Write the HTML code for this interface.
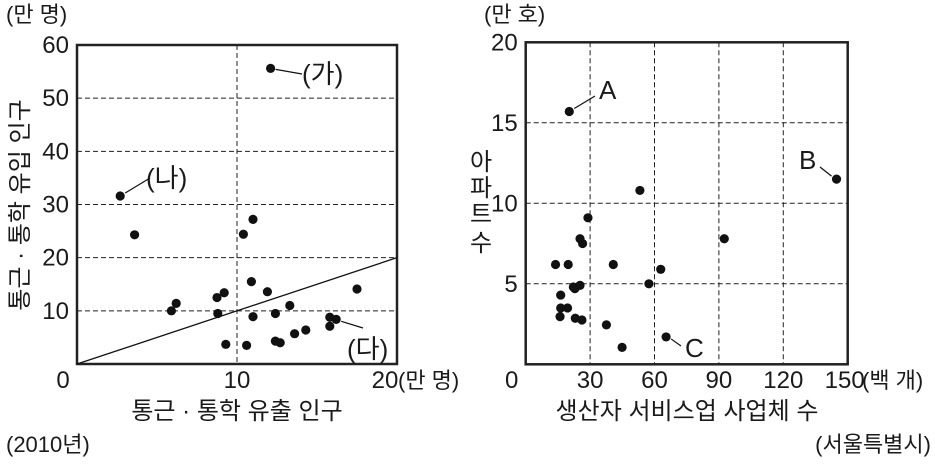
<!DOCTYPE html>
<html><head><meta charset="utf-8"><style>
html,body{margin:0;padding:0;background:#fff}
svg text{font-family:"Liberation Sans","Noto Sans CJK KR",sans-serif;fill:#1a1a1a}
</style></head><body>
<svg id="c" width="935" height="464" viewBox="0 0 935 464" xmlns="http://www.w3.org/2000/svg">
<g id="L"></g>
<g id="R"></g>
<text x="6" y="22" font-size="22">(만 명)</text>
<text x="484" y="22" font-size="22">(만 호)</text>
<text transform="translate(28,205) rotate(-90)" text-anchor="middle" font-size="24">통근 · 통학 유입 인구</text>
<text x="237" y="419" text-anchor="middle" font-size="24">통근 · 통학 유출 인구</text>
<text x="398" y="388" font-size="22">(만 명)</text>
<text x="6" y="452" font-size="22">(2010년)</text>
<text x="687" y="419" text-anchor="middle" font-size="24">생산자 서비스업 사업체 수</text>
<text x="862" y="388" font-size="22">(백 개)</text>
<text x="931" y="452" text-anchor="end" font-size="22">(서울특별시)</text>
<g font-size="24">
<text x="481" y="170" text-anchor="middle">아</text>
<text x="481" y="196" text-anchor="middle">파</text>
<text x="481" y="222" text-anchor="middle">트</text>
<text x="481" y="251" text-anchor="middle">수</text>
</g>
</svg>
<script>
const leftX=[12.1,2.7,3.6,10.4,11.0,10.9,11.9,17.5,5.9,6.2,8.75,9.2,8.8,13.3,11.0,12.4,9.3,10.6,12.4,12.7,13.6,14.3,15.8,15.8,16.2];
const leftY=[55.6,31.6,24.3,24.4,27.2,15.5,13.6,14.1,10.0,11.4,12.5,13.4,9.5,11.0,8.9,9.5,3.7,3.5,4.3,4.0,5.7,6.4,7.1,8.8,8.4];
const leftYTicks=[0,10,20,30,40,50,60];
const leftXTicks=[0,10,20];
const rightX=[20.3,144.8,53.2,29.0,92.5,25.3,26.5,13.9,19.8,40.8,62.9,57.4,22.2,22.9,25.3,16.3,16.3,19.5,16.0,23.1,26.2,37.6,44.9,65.4];
const rightY=[15.7,11.5,10.8,9.1,7.8,7.8,7.5,6.2,6.2,6.2,5.9,5.0,4.8,4.7,4.9,4.3,3.5,3.5,2.96,2.86,2.75,2.45,1.05,1.7];
const rightYTicks=[0,5,10,15,20];
const rightXTicks=[0,30,60,90,120,150];
const NS="http://www.w3.org/2000/svg";
function mk(p,t,a){const e=document.createElementNS(NS,t);for(const k in a)e.setAttribute(k,a[k]);p.appendChild(e);return e;}
function panel(g,x0,x1,y0,y1,xmax,ymax,xs,ys,xt,yt,pref,endShift){
 const sx=v=>x0+(x1-x0)*v/xmax, sy=v=>y0-(y0-y1)*v/ymax;
 xt.forEach(v=>{if(v>0&&v<xmax){const l=mk(g,'line',{x1:sx(v),x2:sx(v),y1:y1,y2:y0,stroke:'#222','stroke-width':1,'stroke-dasharray':'5,3'});
 
 }});
 yt.forEach(v=>{if(v>0&&v<ymax){const l=mk(g,'line',{x1:x0,x2:x1,y1:sy(v),y2:sy(v),stroke:'#222','stroke-width':1,'stroke-dasharray':'5,3'});
 
 }});
 const r=mk(g,'rect',{x:x0,y:y1,width:x1-x0,height:y0-y1,fill:'none',stroke:'#222','stroke-width':2.5});
 
 
 yt.forEach(v=>{if(v===0)return;const t=mk(g,'text',{x:x0-8,y:sy(v)+8,'text-anchor':'end','font-size':24});t.textContent=v;
 
 });
 xt.forEach(v=>{const t=mk(g,'text',{x:sx(v)+(v===0?-14:0)+(v===xmax?endShift:0),y:388,'text-anchor':'middle','font-size':24});t.textContent=v;
 
 });
 xs.forEach((v,i)=>{const c=mk(g,'circle',{cx:sx(v),cy:sy(ys[i]),r:4.6,fill:'#111'});
 
 });
 return {sx,sy};
}
const L=document.getElementById('L'),R=document.getElementById('R');
const a=panel(L,77,397,364,45,20,60,leftX,leftY,leftXTicks,leftYTicks,'left',-12);
const dl=mk(L,'line',{x1:a.sx(0),y1:a.sy(0),x2:a.sx(20),y2:a.sy(20),stroke:'#111','stroke-width':1.3});


const b=panel(R,525.7,847.7,364.3,42.3,150,20,rightX,rightY,rightXTicks,rightYTicks,'right',-3);
function lab(g,x1,y1,x2,y2,tx,ty,s,name){const l=mk(g,'line',{x1,y1,x2,y2,stroke:'#111','stroke-width':1.2});
 
 
 const t=mk(g,'text',{x:tx,y:ty,'font-size':26});t.textContent=s;
 
 }
lab(L,a.sx(12.1)+5,a.sy(55.6)+1,302,74,302,83,'(가)','label-ga');
lab(L,a.sx(2.7)+5,a.sy(31.6)-3,150,178,146,187,'(나)','label-na');
lab(L,a.sx(16.2)+5,a.sy(8.4)+2,363,328,347,358,'(다)','label-da');
lab(R,b.sx(20.3)+5,b.sy(15.7)-3,595,96,599,99,'A','label-a');
lab(R,b.sx(144.8)-5,b.sy(11.5)-3,820,167,799,169,'B','label-b');
lab(R,b.sx(65.4)+5,b.sy(1.7)+2,681,346,685,357,'C','label-c');
</script>
</body></html>
